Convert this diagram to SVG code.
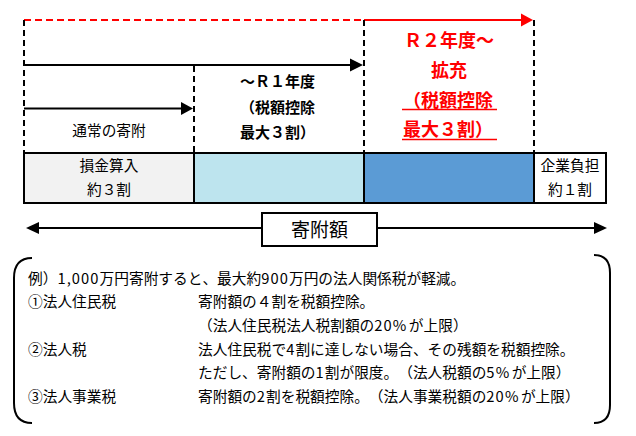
<svg xmlns="http://www.w3.org/2000/svg" width="636" height="436" viewBox="0 0 636 436">
<style>
text{font-family:"Noto Sans CJK JP","Noto Sans",sans-serif;fill:#000;text-spacing-trim:space-all;font-kerning:none}
.t{font-size:14.7px}
.h{letter-spacing:1.1px}
.p{letter-spacing:2.5px}
.b{font-size:15px;font-weight:bold}
.r{font-size:18px;font-weight:bold;fill:#ff0000}
.dash{stroke:#000;stroke-width:2;stroke-dasharray:6,4;fill:none}
.ln{stroke:#000;stroke-width:2;fill:none}
.box{stroke:#000;stroke-width:2}
.c{text-anchor:middle}
</style>
<rect width="636" height="436" fill="#fff"/>
<g id="connectors">
<line x1="24" y1="20" x2="364" y2="20" stroke="#ff0000" stroke-width="2" stroke-dasharray="7,4"/>
<line x1="364" y1="20" x2="522" y2="20" stroke="#ff0000" stroke-width="2"/>
<polygon points="521,13.5 533,20 521,26.5" fill="#ff0000"/>
<line class="dash" x1="24" y1="20" x2="24" y2="153"/>
<line class="dash" x1="194" y1="66" x2="194" y2="153"/>
<line class="dash" x1="364" y1="20" x2="364" y2="153"/>
<line class="dash" x1="534" y1="20" x2="534" y2="153"/>
<line class="ln" x1="24" y1="65" x2="352" y2="65"/>
<polygon points="350,58.5 363,65 350,71.5"/>
<line class="ln" x1="24" y1="108.5" x2="182" y2="108.5"/>
<polygon points="181,102 193,108.5 181,115"/>
<line class="ln" x1="37" y1="228" x2="595" y2="228"/>
<polygon points="39,222 26,228 39,234"/>
<polygon points="594,222 607,228 594,234"/>
<path class="ln" d="M32,258 Q14,258 14,278 L14,403 Q14,423 32,423"/>
<path class="ln" d="M594,255 Q610,255 610,273 L610,405 Q610,423 594,423"/>
</g>
<g id="normal">
<text class="t c" x="109" y="135.5" font-size="15.5">通常の寄附</text>
</g>
<g id="r1">
<text class="b" x="240" y="86.5">～Ｒ１年度</text>
<text class="b" x="240" y="112.5">（税額控除</text>
<text class="b" x="240" y="137.5">最大３割）</text>
</g>
<g id="r2">
<text class="r c" x="449" y="47">Ｒ２年度～</text>
<text class="r c" x="449" y="77">拡充</text>
<text class="r" x="403" y="107">（税額控除</text>
<text class="r" x="403" y="136">最大３割）</text>
<line x1="402" y1="109.5" x2="497" y2="109.5" stroke="#ff0000" stroke-width="1.3"/>
<line x1="402" y1="139.5" x2="497" y2="139.5" stroke="#ff0000" stroke-width="1.3"/>
</g>
<g id="bar-loss">
<rect class="box" x="24" y="153" width="170" height="50" fill="#f2f2f2"/>
<text class="t c" x="109" y="171">損金算入</text>
<text class="t c" x="109" y="195">約３割</text>
</g>
<g id="bar-r1">
<rect class="box" x="194" y="153" width="170" height="50" fill="#bde4ee"/>
</g>
<g id="bar-r2">
<rect class="box" x="364" y="153" width="170" height="50" fill="#5b9bd5"/>
</g>
<g id="bar-company">
<rect class="box" x="534" y="153" width="72" height="50" fill="#fff"/>
<text class="t c" x="570" y="171">企業負担</text>
<text class="t c" x="570" y="195">約１割</text>
</g>
<g id="donation-label">
<rect class="box" x="262" y="213" width="115" height="33" fill="#fff"/>
<text class="c" x="319.5" y="236.5" font-size="19px">寄附額</text>
</g>
<g id="notes">
<text class="t" x="28" y="283.5">例）<tspan class="h">1,000</tspan>万円寄附すると、最大約<tspan class="h">900</tspan>万円の法人関係税が軽減。</text>
<text class="t" x="28" y="307.2">①法人住民税</text>
<text class="t" x="198" y="307.2">寄附額の４割を税額控除。</text>
<text class="t" x="198" y="330.9">（法人住民税法人税割額の<tspan class="h">20</tspan><tspan class="p">%</tspan>が上限）</text>
<text class="t" x="28" y="354.6">②法人税</text>
<text class="t" x="198" y="354.6">法人住民税で<tspan class="h">4</tspan>割に達しない場合、その残額を税額控除。</text>
<text class="t" x="198" y="378.3">ただし、寄附額の<tspan class="h">1</tspan>割が限度。（法人税額の<tspan class="h">5</tspan><tspan class="p">%</tspan>が上限）</text>
<text class="t" x="28" y="402">③法人事業税</text>
<text class="t" x="198" y="402">寄附額の<tspan class="h">2</tspan>割を税額控除。（法人事業税額の<tspan class="h">20</tspan><tspan class="p">%</tspan>が上限）</text>
</g>
</svg>
